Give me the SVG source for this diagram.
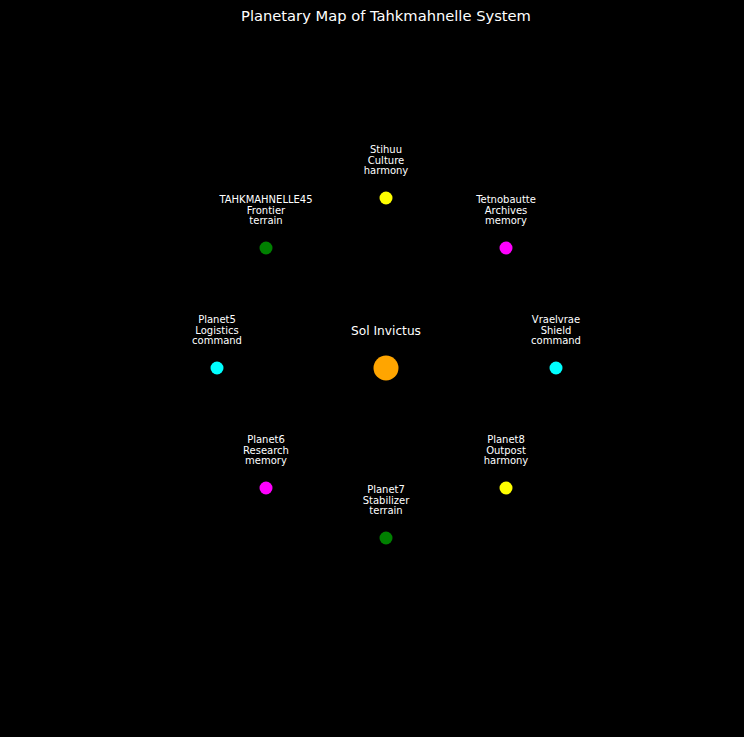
<svg xmlns="http://www.w3.org/2000/svg" width="744" height="737" viewBox="0 0 744 737">
<style>
text{font-family:"DejaVu Sans",sans-serif;fill:#ffffff;text-anchor:middle}
.lbl{font-size:10px}
.title{font-size:14.7px}
.sun{font-size:12.2px}
</style>
<rect x="0" y="0" width="744" height="737" fill="#000000"/>
<text class="title" x="386" y="21">Planetary Map of Tahkmahnelle System</text>
<g id="connectors"></g>
<g id="sun"><circle cx="386" cy="368" r="12.5" fill="#ffa500"/><text class="sun" x="386" y="334.5">Sol Invictus</text></g>
<g id="stihuu"><circle cx="386" cy="198" r="6.5" fill="#ffff00"/><text class="lbl" x="386"><tspan x="386" y="153">Stihuu</tspan><tspan x="386" y="163.5">Culture</tspan><tspan x="386" y="174">harmony</tspan></text></g>
<g id="tahkmahnelle45"><circle cx="266" cy="248" r="6.5" fill="#008000"/><text class="lbl" x="266"><tspan x="266" y="203">TAHKMAHNELLE45</tspan><tspan x="266" y="213.5">Frontier</tspan><tspan x="266" y="224">terrain</tspan></text></g>
<g id="tetnobautte"><circle cx="506" cy="248" r="6.5" fill="#ff00ff"/><text class="lbl" x="506"><tspan x="506" y="203">Tetnobautte</tspan><tspan x="506" y="213.5">Archives</tspan><tspan x="506" y="224">memory</tspan></text></g>
<g id="planet5"><circle cx="217" cy="368" r="6.5" fill="#00ffff"/><text class="lbl" x="217"><tspan x="217" y="323">Planet5</tspan><tspan x="217" y="333.5">Logistics</tspan><tspan x="217" y="344">command</tspan></text></g>
<g id="vraelvrae"><circle cx="556" cy="368" r="6.5" fill="#00ffff"/><text class="lbl" x="556"><tspan x="556" y="323">Vraelvrae</tspan><tspan x="556" y="333.5">Shield</tspan><tspan x="556" y="344">command</tspan></text></g>
<g id="planet6"><circle cx="266" cy="488" r="6.5" fill="#ff00ff"/><text class="lbl" x="266"><tspan x="266" y="443">Planet6</tspan><tspan x="266" y="453.5">Research</tspan><tspan x="266" y="464">memory</tspan></text></g>
<g id="planet8"><circle cx="506" cy="488" r="6.5" fill="#ffff00"/><text class="lbl" x="506"><tspan x="506" y="443">Planet8</tspan><tspan x="506" y="453.5">Outpost</tspan><tspan x="506" y="464">harmony</tspan></text></g>
<g id="planet7"><circle cx="386" cy="538" r="6.5" fill="#008000"/><text class="lbl" x="386"><tspan x="386" y="493">Planet7</tspan><tspan x="386" y="503.5">Stabilizer</tspan><tspan x="386" y="514">terrain</tspan></text></g>
</svg>
